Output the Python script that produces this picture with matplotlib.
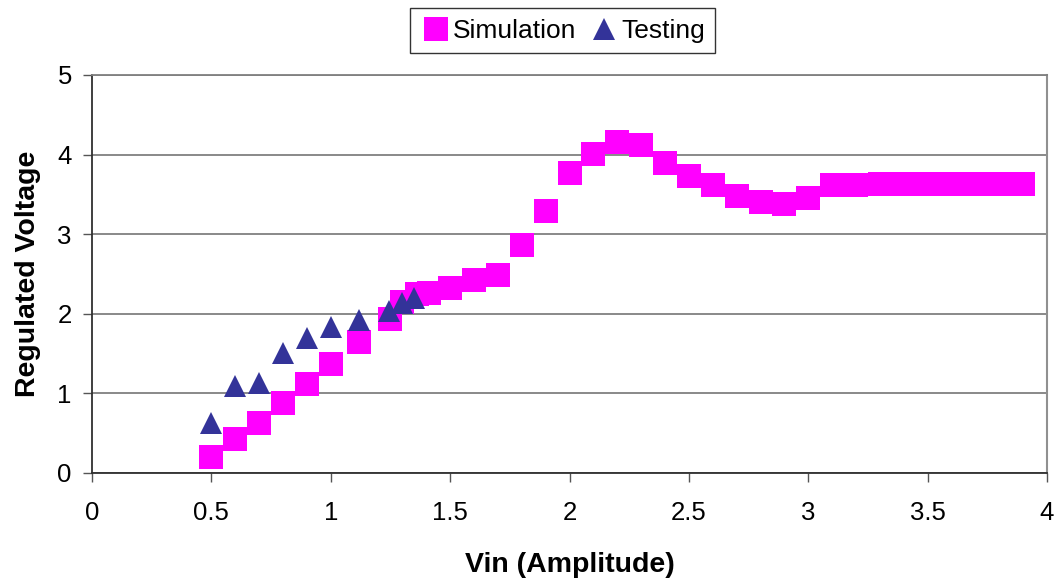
import matplotlib.pyplot as plt

plt.rcParams['font.family'] = ['Liberation Sans', 'DejaVu Sans']

# simulation
sim_x = [0.5, 0.6, 0.7, 0.8, 0.9, 1.0, 1.12, 1.25, 1.3, 1.36, 1.41, 1.5, 1.6, 1.7,
         1.8, 1.9, 2.0, 2.1, 2.2, 2.3, 2.4, 2.5, 2.6, 2.7, 2.8, 2.9, 3.0, 3.1, 3.2,
         3.3, 3.4, 3.5, 3.6, 3.7, 3.8, 3.9]
sim_y = [0.2, 0.43, 0.63, 0.88, 1.12, 1.37, 1.65, 1.93, 2.15, 2.25, 2.26, 2.32, 2.42, 2.49,
         2.86, 3.29, 3.77, 4.01, 4.16, 4.12, 3.89, 3.73, 3.62, 3.48, 3.40, 3.38, 3.45, 3.62, 3.62,
         3.63, 3.63, 3.63, 3.63, 3.63, 3.63, 3.63]

# testing
test_x = [0.5, 0.6, 0.7, 0.8, 0.9, 1.0, 1.12, 1.245, 1.3, 1.35]
test_y = [0.63, 1.09, 1.13, 1.51, 1.70, 1.84, 1.92, 2.04, 2.14, 2.20]

fig = plt.figure(figsize=(10.58, 5.82), dpi=100)
ax = fig.add_axes([92/1058, 1-473/582, (1047-92)/1058, (473-75)/582])

ax.plot(sim_x, sim_y, 's', color='#FF00FF', markersize=17.3, markeredgewidth=0, label='Simulation')
ax.plot(test_x, test_y, '^', color='#333399', markersize=15.5, markeredgewidth=0, label='Testing')

ax.set_xlim(0, 4)
ax.set_ylim(0, 5)
ax.set_xticks([0, 0.5, 1, 1.5, 2, 2.5, 3, 3.5, 4])
ax.set_xticklabels(['0', '0.5', '1', '1.5', '2', '2.5', '3', '3.5', '4'])
ax.set_yticks([0, 1, 2, 3, 4, 5])
ax.yaxis.grid(True, color='#808080', linewidth=1.3)
ax.set_axisbelow(True)
ax.tick_params(labelsize=18.5, direction='out', length=6.5, width=1, color='#555555', pad=8)
ax.tick_params(axis='x', pad=14)

for s in ['left', 'bottom']:
    ax.spines[s].set_color('#303030')
    ax.spines[s].set_linewidth(1.3)
ax.spines['right'].set_color('#909090')
ax.spines['right'].set_linewidth(1.5)
ax.spines['top'].set_color('#808080')
ax.spines['top'].set_linewidth(1.3)

ax.set_xlabel('Vin (Amplitude)', fontsize=20.5, fontweight='bold', labelpad=19)
ax.set_ylabel('Regulated Voltage', fontsize=20.5, fontweight='bold', labelpad=12)

leg = ax.legend(loc='upper center', bbox_to_anchor=(0.493, 1.201), ncol=2, fontsize=19,
                frameon=True, fancybox=False, edgecolor='black', handletextpad=0.1,
                columnspacing=0.5, borderpad=0.4, handlelength=1.1, markerscale=1.0)
leg.get_frame().set_linewidth(1)

plt.savefig('out.png', dpi=100)
